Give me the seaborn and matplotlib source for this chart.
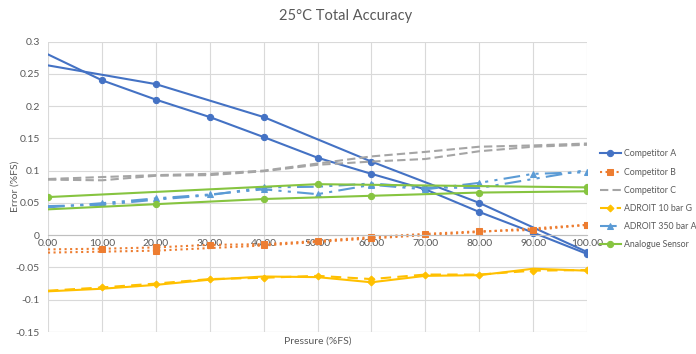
import numpy as np
import pandas as pd
import seaborn as sns
import matplotlib.pyplot as plt

# pressure points (%FS)
x10 = [0, 10, 20, 30, 40, 50, 60, 70, 80, 90, 100]
x20 = [0, 20, 40, 60, 80, 100]
x50 = [0, 50, 100]

# each sensor: two passes (up / down)
comp_a_1 = [0.280, 0.240, 0.210, 0.183, 0.152, 0.120, 0.095, 0.071, 0.036, 0.004, -0.029]
comp_a_2 = [0.263, 0.234, 0.183, 0.114, 0.050, -0.026]

comp_b_1 = [-0.022, -0.021, -0.019, -0.015, -0.014, -0.009, -0.003, 0.002, 0.006, 0.008, 0.016]
comp_b_2 = [-0.027, -0.024, -0.016, -0.005, 0.005, 0.016]

comp_c_1 = [0.086, 0.085, 0.092, 0.093, 0.099, 0.109, 0.114, 0.118, 0.130, 0.137, 0.140]
comp_c_2 = [0.087, 0.090, 0.093, 0.095, 0.100, 0.111, 0.122, 0.129, 0.137, 0.139, 0.142]

adroit10_1 = [-0.086, -0.081, -0.075, -0.068, -0.066, -0.063, -0.068, -0.061, -0.061, -0.055, -0.054]
adroit10_2 = [-0.087, -0.083, -0.077, -0.069, -0.064, -0.065, -0.073, -0.063, -0.062, -0.052, -0.055]

adroit350_1 = [0.043, 0.0495, 0.057, 0.063, 0.071, 0.0635, 0.078, 0.071, 0.081, 0.095, 0.0975]
adroit350_2 = [0.045, 0.047, 0.055, 0.062, 0.074, 0.075, 0.080, 0.074, 0.073, 0.087, 0.101]

analogue_1 = [0.059, 0.079, 0.074]
analogue_2 = [0.040, 0.048, 0.056, 0.061, 0.066, 0.068]

labels = ['Competitor A', 'Competitor B', 'Competitor C',
          'ADROIT 10 bar G', 'ADROIT 350 bar A', 'Analogue Sensor']

plt.rcParams['font.family'] = ['Lato', 'DejaVu Sans']
fig, ax = plt.subplots(figsize=(6.96, 3.54), dpi=100)
fig.subplots_adjust(left=48/696, right=587/696, top=1-41.5/354, bottom=1-332/354)

blue = '#4472C4'
orange = '#ED7D31'
gray = '#A5A5A5'
gold = '#FFC000'
lblue = '#5B9BD5'
green = '#86C440'

def draw(x, y, color, ls, marker, label, mark, ms=4.5):
    sns.lineplot(x=x, y=y, ax=ax, color=color, linestyle=ls, linewidth=1.5,
                 marker=marker, markersize=ms, markeredgecolor=color,
                 markevery=mark, label=label, sort=False)

draw(x10, comp_a_1, blue, '-', 'o', labels[0], list(range(1, 11)))
draw(x20, comp_a_2, blue, '-', 'o', '_nolegend_', list(range(1, 6)))
draw(x10, comp_b_1, orange, ':', 's', labels[1], list(range(1, 11)))
draw(x20, comp_b_2, orange, ':', 's', '_nolegend_', list(range(1, 6)))
draw(x10, comp_c_1, gray, (0, (4, 2)), None, labels[2], None)
draw(x10, comp_c_2, gray, (0, (4, 2)), None, '_nolegend_', None)
draw(x10, adroit10_1, gold, (0, (5, 3)), 'D', labels[3], list(range(1, 11)), 3.5)
draw(x10, adroit10_2, gold, '-', 'D', '_nolegend_', [6], 3.5)
draw(x10, adroit350_1, lblue, (0, (8, 3, 1.5, 3, 1.5, 3)), '^', labels[4], list(range(1, 11)))
draw(x10, adroit350_2, lblue, (0, (8, 3, 1.5, 3, 1.5, 3)), '^', '_nolegend_', [4, 6])
draw(x50, analogue_1, green, '-', 'o', labels[5], [0, 1, 2])
draw(x20, analogue_2, green, '-', 'o', '_nolegend_', list(range(1, 6)))

if ax.get_legend() is not None:
    ax.get_legend().remove()

ax.set_xlim(0, 100)
ax.set_ylim(-0.15, 0.3)
ax.set_xticks(x10)
ax.set_xticklabels([f'{v:.2f}' for v in x10])
yt = [-0.15, -0.1, -0.05, 0, 0.05, 0.1, 0.15, 0.2, 0.25, 0.3]
ax.set_yticks(yt)
ax.set_yticklabels(['-0.15', '-0.1', '-0.05', '0', '0.05', '0.1', '0.15', '0.2', '0.25', '0.3'])
ax.grid(True, color='#D9D9D9', linewidth=0.8)
ax.set_axisbelow(True)
for s in ['top', 'right', 'left']:
    ax.spines[s].set_visible(False)
ax.spines['bottom'].set_position(('data', 0))
ax.spines['bottom'].set_color('#BFBFBF')
ax.axhline(-0.15, color='#D9D9D9', linewidth=0.8, zorder=0)
ax.tick_params(axis='both', length=0, labelsize=7.5, labelcolor='#595959')
ax.tick_params(axis='x', pad=3)
ax.tick_params(axis='y', pad=6)

ax.set_xlabel('Pressure (%FS)', fontsize=7.5, color='#595959')
ax.xaxis.set_label_coords(0.5, -0.015, transform=ax.transAxes)
ax.xaxis.label.set_va('top')
ax.set_ylabel('Error (%FS)', fontsize=7.5, color='#595959')
ax.yaxis.set_label_coords(-0.062, 0.5, transform=ax.transAxes)
ax.yaxis.label.set_va('center')

fig.suptitle('25°C Total Accuracy', x=0.497, y=0.975, fontsize=10.5, color='#595959')

handles, labs = ax.get_legend_handles_labels()
leg = fig.legend(handles, labs, loc='upper left', bbox_to_anchor=(596/696, 1-146/354),
                 frameon=False, fontsize=6.3, handlelength=2.5, handletextpad=0.3,
                 labelspacing=1.05, borderaxespad=0)
for t in leg.get_texts():
    t.set_color('#595959')

fig.savefig('out.png', dpi=100)
